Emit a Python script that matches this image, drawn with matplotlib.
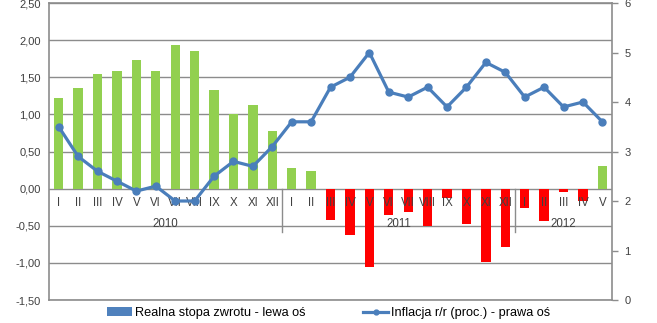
import matplotlib
matplotlib.use('Agg')
import matplotlib.pyplot as plt
from matplotlib.patches import Patch
from matplotlib.lines import Line2D
import numpy as np

plt.rcParams['font.family'] = ['Liberation Sans', 'DejaVu Sans']

# ── dane ──────────────────────────────────────────────────────────────────────
months = ['I', 'II', 'III', 'IV', 'V', 'VI', 'VII', 'VIII', 'IX', 'X', 'XI', 'XII',
          'I', 'II', 'III', 'IV', 'V', 'VI', 'VII', 'VIII', 'IX', 'X', 'XI', 'XII',
          'I', 'II', 'III', 'IV', 'V']
years = ['2010', '2011', '2012']
year_len = [12, 12, 5]

real_rate = [1.22, 1.35, 1.54, 1.58, 1.73, 1.59, 1.93, 1.86, 1.33, 1.01, 1.13, 0.78,
             0.28, 0.24, -0.42, -0.62, -1.05, -0.35, -0.31, -0.51, -0.12, -0.48, -0.99, -0.78,
             -0.26, -0.43, -0.04, -0.16, 0.31]
inflation = [3.5, 2.9, 2.6, 2.4, 2.2, 2.3, 2.0, 2.0, 2.5, 2.8, 2.7, 3.1,
             3.6, 3.6, 4.3, 4.5, 5.0, 4.2, 4.1, 4.3, 3.9, 4.3, 4.8, 4.6,
             4.1, 4.3, 3.9, 4.0, 3.6]

GREEN = '#92D050'
RED = '#FF0000'
BLUE = '#4A7EBB'
GRID = '#8C8C8C'

x = np.arange(len(months))
colors = [GREEN if v >= 0 else RED for v in real_rate]

fig = plt.figure(figsize=(6.57, 3.23), dpi=100)
ax = fig.add_axes([0.0746, 0.0712, 0.857, 0.9195])
ax.bar(x, real_rate, width=0.48, color=colors, zorder=2)

ax.set_xlim(-0.5, len(months) - 0.5)
ax.set_ylim(-1.5, 2.5)
yt = np.arange(-1.5, 2.51, 0.5)
ax.set_yticks(yt)
ax.set_yticklabels([f'{v:.2f}'.replace('.', ',') for v in yt], fontsize=8, color='#404040')
ax.tick_params(axis='y', length=0, pad=6)
ax.set_xticks([])
for v in yt:
    ax.axhline(v, color=GRID, lw=1.0, zorder=1)

for s in ['left', 'right', 'top', 'bottom']:
    ax.spines[s].set_color(GRID)
    ax.spines[s].set_linewidth(1.2)

# etykiety miesięcy i lat
for i, m in enumerate(months):
    ax.text(i, -0.2, m, ha='center', va='center', fontsize=8.3, color='#404040', zorder=3)
start = 0
for y, n in zip(years, year_len):
    ax.text(start + (n - 1) / 2, -0.48, y, ha='center', va='center', fontsize=8.3,
            color='#404040', zorder=3)
    if start > 0:
        ax.plot([start - 0.5, start - 0.5], [0, -0.58], color=GRID, lw=1.0, zorder=1)
    start += n

# prawa oś – inflacja
ax2 = ax.twinx()
ax2.plot(x, inflation, color=BLUE, lw=2.3, marker='o', ms=5, zorder=4)
ax2.set_ylim(0, 6)
ax2.set_yticks(range(0, 7))
ax2.tick_params(axis='y', labelsize=8, colors='#404040', length=4, width=1, pad=5)
ax2.tick_params(axis='y', color=GRID)
for s in ['left', 'right', 'top', 'bottom']:
    ax2.spines[s].set_visible(False)

handles = [Patch(facecolor='#4F81BD', edgecolor='none'),
           Line2D([0], [0], color=BLUE, lw=2.3, marker='o', ms=3.5)]
labels = ['Realna stopa zwrotu - lewa oś', 'Inflacja r/r (proc.) - prawa oś']
fig.legend(handles, labels, loc='center', bbox_to_anchor=(0.5, 0.031), ncol=2,
           frameon=False, fontsize=9.2, columnspacing=4.5, handlelength=2.0,
           handletextpad=0.2)

plt.savefig('out.png', dpi=100)
